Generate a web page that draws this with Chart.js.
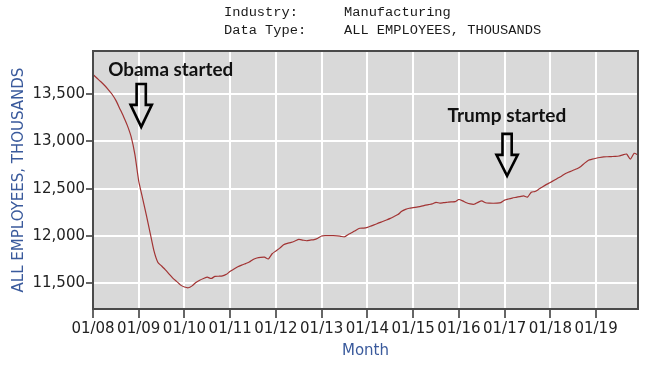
<!DOCTYPE html>
<html>
<head>
<meta charset="utf-8">
<script src="https://cdn.jsdelivr.net/npm/chart.js@4/dist/chart.umd.min.js"></script>
<style>
  html, body { margin: 0; padding: 0; background: #ffffff; }
  #wrap { position: relative; width: 661px; height: 373px; }
</style>
</head>
<body>
<div id="wrap"><canvas id="c" width="661" height="373"></canvas></div>
<script>
// ---- data (thousands of employees, monthly, Jan 2008 .. Dec 2019) ----
const tickLabels = ['01/08','01/09','01/10','01/11','01/12','01/13','01/14','01/15','01/16','01/17','01/18','01/19'];
const yTickValues = [11500, 12000, 12500, 13000, 13500];
const employment = [
  13710, 13672, 13635, 13595, 13550, 13500, 13435, 13350, 13265, 13170, 13050, 12860,
  12580, 12400, 12220, 12030, 11840, 11720, 11680, 11640, 11595, 11550, 11515, 11478,
  11458, 11450, 11470, 11506, 11530, 11548, 11562, 11548, 11570, 11572, 11576, 11592,
  11625, 11648, 11672, 11690, 11706, 11722, 11750, 11765, 11772, 11774, 11755, 11810,
  11840, 11870, 11905, 11920, 11930, 11945, 11962, 11955, 11948, 11955, 11960, 11975,
  11998, 12002, 12003, 12002, 12000, 11995, 11990, 12015, 12035, 12060, 12080, 12082,
  12090, 12105, 12120, 12137, 12152, 12168, 12185, 12205, 12225, 12260, 12280, 12292,
  12298, 12305, 12312, 12322, 12330, 12338, 12355, 12346, 12352, 12356, 12360, 12362,
  12385, 12370, 12350, 12338, 12335, 12355, 12370, 12350, 12346, 12345, 12346, 12352,
  12378, 12390, 12400, 12408, 12416, 12424, 12410, 12462, 12470, 12495, 12521, 12545,
  12565, 12588, 12612, 12635, 12660, 12678, 12695, 12710, 12735, 12770, 12800, 12812,
  12822, 12830, 12836, 12838, 12840, 12842, 12846, 12858, 12866, 12812, 12874, 12856
];
const headerLabels = ['Industry:', 'Data Type:'];
const headerValues = ['Manufacturing', 'ALL EMPLOYEES, THOUSANDS'];
const annotationLabels = ['Obama started', 'Trump started'];
// annotation anchors in data space: month index of text start, text baseline value,
// arrow month, arrow top value, arrow head value, arrow tip value
const annotationTextMonth = [4.0, 93.0];
const annotationTextValue = [13694, 13210];
const annotationArrowMonth = [12.65, 108.65];
const annotationArrowTop = [13609, 13080];
const annotationArrowHead = [13387, 12858];
const annotationArrowTip = [13154, 12635];

const points = employment.map((v, i) => ({ x: i, y: v }));

const plotBg = {
  id: 'plotBg',
  beforeDraw(chart) {
    const { ctx, chartArea: a } = chart;
    ctx.save();
    ctx.fillStyle = '#d9d9d9';
    ctx.fillRect(a.left, a.top, a.right - a.left, a.bottom - a.top);
    ctx.restore();
  },
  afterDraw(chart) {
    const { ctx, chartArea: a } = chart;
    const xs = chart.scales.x, ys = chart.scales.y;
    ctx.save();
    // plot border
    ctx.strokeStyle = '#4a4a4a';
    ctx.lineWidth = 2;
    ctx.strokeRect(a.left, a.top, a.right - a.left, a.bottom - a.top);

    // header text
    ctx.fillStyle = '#1a1a1a';
    ctx.font = '13.7px "Liberation Mono", monospace';
    ctx.textBaseline = 'middle';
    ctx.textAlign = 'left';
    headerLabels.forEach((t, i) => {
      ctx.fillText(t, 224, 12 + i * 18.5);
      ctx.fillText(headerValues[i], 344, 12 + i * 18.5);
    });

    // annotations
    const targetW = [125, 119];
    annotationLabels.forEach((t, i) => {
      ctx.font = 'bold 18px Lato';
      const w = ctx.measureText(t).width;
      const size = 18 * targetW[i] / w;
      ctx.font = 'bold ' + size.toFixed(2) + 'px Lato';
      ctx.fillStyle = '#111';
      ctx.textBaseline = 'alphabetic';
      ctx.fillText(t, xs.getPixelForValue(annotationTextMonth[i]), ys.getPixelForValue(annotationTextValue[i]));

      const cx = xs.getPixelForValue(annotationArrowMonth[i]);
      const yTop = ys.getPixelForValue(annotationArrowTop[i]);
      const yHead = ys.getPixelForValue(annotationArrowHead[i]);
      const yTip = ys.getPixelForValue(annotationArrowTip[i]);
      const sw = 4.6, hw = 10.6;
      ctx.beginPath();
      ctx.moveTo(cx - sw, yTop);
      ctx.lineTo(cx + sw, yTop);
      ctx.lineTo(cx + sw, yHead);
      ctx.lineTo(cx + hw, yHead);
      ctx.lineTo(cx, yTip);
      ctx.lineTo(cx - hw, yHead);
      ctx.lineTo(cx - sw, yHead);
      ctx.closePath();
      ctx.lineWidth = 2.6;
      ctx.lineJoin = 'miter';
      ctx.strokeStyle = '#000';
      ctx.stroke();
    });
    ctx.restore();
  }
};

new Chart(document.getElementById('c'), {
  type: 'line',
  data: {
    datasets: [{
      data: points,
      borderColor: '#a23434',
      borderWidth: 1.2,
      pointRadius: 0,
      tension: 0.2,
      fill: false
    }]
  },
  options: {
    responsive: false,
    devicePixelRatio: 1,
    animation: false,
    layout: { padding: { top: 51, right: 23, left: 0, bottom: 0 } },
    plugins: { legend: { display: false }, tooltip: { enabled: false }, title: { display: false } },
    scales: {
      x: {
        type: 'linear',
        min: 0,
        max: employment.length - 1,
        afterBuildTicks(scale) {
          scale.ticks = tickLabels.map((_, i) => ({ value: i * 12 }));
        },
        afterFit(scale) {
          scale.height = 64;
          scale.paddingLeft = 0; scale.paddingRight = 0;
        },
        ticks: {
          autoSkip: false,
          maxRotation: 0,
          minRotation: 0,
          padding: 2,
          color: '#222',
          font: { family: '"DejaVu Sans"', size: 15 },
          callback: (v) => tickLabels[Math.round(v / 12)]
        },
        grid: {
          color: '#ffffff',
          lineWidth: 2,
          tickColor: '#333',
          tickLength: 9,
          tickWidth: 1.5
        },
        border: { display: false },
        title: {
          display: true,
          text: 'Month',
          color: '#3a5a9c',
          font: { family: '"DejaVu Sans"', size: 15 },
          padding: { top: 0, bottom: 13 }
        }
      },
      y: {
        min: 11225,
        max: 13958,
        afterBuildTicks(scale) {
          scale.ticks = yTickValues.map(v => ({ value: v }));
        },
        afterFit(scale) {
          scale.width = 93;
          scale.paddingTop = 0; scale.paddingBottom = 0;
        },
        ticks: {
          padding: 1,
          color: '#222',
          font: { family: '"DejaVu Sans"', size: 15 },
          callback: (v) => Number(v).toLocaleString('en-US')
        },
        grid: {
          color: '#ffffff',
          lineWidth: 2,
          tickColor: '#333',
          tickLength: 7,
          tickWidth: 1.5
        },
        border: { display: false },
        title: {
          display: true,
          text: 'ALL EMPLOYEES, THOUSANDS',
          color: '#3a5a9c',
          font: { family: '"DejaVu Sans"', size: 15 },
          padding: { top: 10, bottom: 0 }
        }
      }
    }
  },
  plugins: [plotBg]
});
</script>
</body>
</html>
